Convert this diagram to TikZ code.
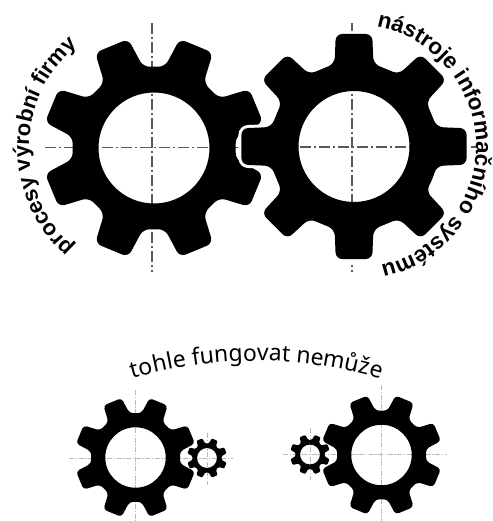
\documentclass[tikz,border=0pt]{standalone}
\usepackage{fontspec}
\setmainfont{Liberation Sans}
\newfontfamily\notosans{Noto Sans}
\usetikzlibrary{decorations.text}
% tooth outline: first tooth, root radius, root half-angle, tip radius, tip half-angle
\newcommand{\gearoutline}[5]{(#1-22.5:#2)
  \foreach \k in {0,...,7} {
    -- (#1+45*\k-#3:#2) -- (#1+45*\k-#5:#4)
    -- (#1+45*\k+#5:#4) -- (#1+45*\k+#3:#2)
  } -- cycle}
% centre, scale, first tooth, root radius, root half-angle, tip radius, tip half-angle
\newcommand{\gearwheel}[7]{
  \begin{scope}[shift={(#1)},scale=#2,rounded corners=#2*6.5pt]
    \fill[black,even odd rule] \gearoutline{#3}{#4}{#5}{#6}{#7}
      (0,0) circle[radius=55.5];
  \end{scope}}
\begin{document}
\begin{tikzpicture}[
    x=1pt, y=1pt,
    mainaxis/.style={gray!70!black, line width=1.1pt,
                     dash pattern=on 11pt off 3pt on 2pt off 3pt},
    smallaxis/.style={gray!55, line width=0.9pt,
                      dash pattern=on 5pt off 1.5pt on 1.5pt off 1.5pt}
  ]
  \useasboundingbox (0,0) rectangle (492,-521);

  \coordinate (leftgear) at (154,-148);
  \coordinate (rightgear) at (354,-146.5);
  \coordinate (biggearA) at (135.5,-457.5);
  \coordinate (smallgearA) at (207,-458);
  \coordinate (biggearB) at (381.5,-455);
  \coordinate (smallgearB) at (310,-454.5);

  % axes first, the wheels cover them
  \draw[mainaxis] (45,-147.5) -- (243,-147.5);
  \draw[mainaxis] (152,-23) -- (152,-272);
  \draw[mainaxis] (243,-147) -- (478,-147);
  \draw[mainaxis] (352,-23) -- (352,-272);

  \draw[smallaxis] (69,-458) -- (233,-458);
  \draw[smallaxis] (135,-390) -- (135,-521);
  \draw[smallaxis] (207,-433) -- (207,-485);
  \draw[smallaxis] (283,-454.5) -- (447,-454.5);
  \draw[smallaxis] (381,-385) -- (381,-521);
  \draw[smallaxis] (310,-428) -- (310,-480);

  \gearwheel{leftgear}{1}{22.5}{82}{14.8}{112}{9.2}
  % white rim where the two big wheels bite
  \begin{scope}[shift={(rightgear)},rounded corners=6.5pt]
    \draw[white,line width=6pt] \gearoutline{0}{85}{13.2}{114}{9.2};
  \end{scope}
  \gearwheel{rightgear}{1}{0}{85}{13.2}{114}{9.2}

  \gearwheel{biggearA}{0.545}{22.5}{82}{14.8}{112}{9.2}
  \gearwheel{smallgearA}{0.18}{22.5}{82}{14.8}{112}{9.2}
  \gearwheel{biggearB}{0.545}{22.5}{82}{14.8}{112}{9.2}
  \gearwheel{smallgearB}{0.18}{22.5}{82}{14.8}{112}{9.2}

  % texts along the wheels
  \path[decorate, decoration={text along path, text align=center,
        text={|\fontsize{22}{22}\selectfont\bfseries|procesy výrobní firmy}}]
    ([shift={(228:132)}]161,-148) arc[start angle=228, end angle=130, radius=132];
  \path[decorate, decoration={text along path, text align=center,
        text={|\fontsize{22.5}{22.5}\selectfont\bfseries|nástroje informačního systému}}]
    ([shift={(79:122)}]rightgear) arc[start angle=79, end angle=-77, radius=122];
  \path[decorate, decoration={text along path, text align=center,
        text={|\fontsize{23}{23}\selectfont\notosans|tohle fungovat nemůže}}]
    (135,-378) arc[start angle=106, end angle=74, radius=442];
\end{tikzpicture}
\end{document}
